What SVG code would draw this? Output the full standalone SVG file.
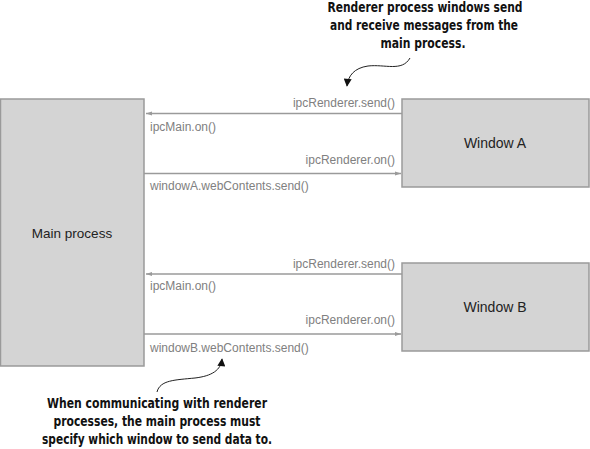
<svg xmlns="http://www.w3.org/2000/svg" width="590" height="449" viewBox="0 0 590 449">
<style>
.box{fill:#d4d4d4;stroke:#9a9a9a;stroke-width:1.5}
.name{font-family:"Liberation Sans",Arial,sans-serif;font-size:14px;fill:#222;text-anchor:middle}
.lbl{font-family:"Liberation Sans",Arial,sans-serif;font-size:12px;fill:#808080}
.r{text-anchor:end}
.con{stroke:#9a9a9a;stroke-width:1.5;fill:none}
.note{font-family:"Liberation Sans Narrow","DejaVu Sans Condensed","Liberation Sans",sans-serif;font-weight:bold;font-size:14.5px;fill:#111;text-anchor:middle}
.call{stroke:#222;stroke-width:1;fill:none}
</style>
<defs>
<marker id="ah" viewBox="0 0 10 10" refX="10" refY="5" markerWidth="8" markerHeight="6" orient="auto" markerUnits="userSpaceOnUse">
<path d="M0,1.5 L10,5 L0,8.5 Z" fill="#9a9a9a"/>
</marker>
<marker id="bh" viewBox="0 0 10 10" refX="9" refY="5" markerWidth="9" markerHeight="8" orient="auto" markerUnits="userSpaceOnUse">
<path d="M0,0 L10,5 L0,10 Z" fill="#111"/>
</marker>
</defs>
<g id="main-process">
<rect class="box" x="0.5" y="99" width="143.5" height="267"/>
<text class="name" x="72" y="238" style="font-size:13.5px">Main process</text>
</g>
<g id="window-a">
<rect class="box" x="402" y="99" width="187" height="88"/>
<text class="name" x="495" y="148">Window A</text>
</g>
<g id="window-b">
<rect class="box" x="402" y="263" width="187" height="88"/>
<text class="name" x="495" y="312">Window B</text>
</g>
<g id="connectors">
<line class="con" x1="402" y1="113.5" x2="146" y2="113.5" marker-end="url(#ah)"/>
<line class="con" x1="144" y1="173.5" x2="401" y2="173.5" marker-end="url(#ah)"/>
<line class="con" x1="402" y1="274" x2="146" y2="274" marker-end="url(#ah)"/>
<line class="con" x1="144" y1="334" x2="401" y2="334" marker-end="url(#ah)"/>
<text class="lbl r" x="395" y="107">ipcRenderer.send()</text>
<text class="lbl" x="150" y="131">ipcMain.on()</text>
<text class="lbl r" x="395" y="164">ipcRenderer.on()</text>
<text class="lbl" x="150" y="190">windowA.webContents.send()</text>
<text class="lbl r" x="395" y="268">ipcRenderer.send()</text>
<text class="lbl" x="150" y="290">ipcMain.on()</text>
<text class="lbl r" x="395" y="324">ipcRenderer.on()</text>
<text class="lbl" x="150" y="352">windowB.webContents.send()</text>
</g>
<g id="note-top">
<text class="note" x="425" y="12" textLength="195" lengthAdjust="spacingAndGlyphs">Renderer process windows send</text>
<text class="note" x="424" y="30" textLength="188" lengthAdjust="spacingAndGlyphs">and receive messages from the</text>
<text class="note" x="423" y="48" textLength="85" lengthAdjust="spacingAndGlyphs">main process.</text>
<path class="call" d="M410,58 C402,72 385,64 368,66 C354,68 348,76 347,86" marker-end="url(#bh)"/>
</g>
<g id="note-bottom">
<text class="note" x="157" y="408" textLength="220" lengthAdjust="spacingAndGlyphs">When communicating with renderer</text>
<text class="note" x="157" y="426" textLength="207" lengthAdjust="spacingAndGlyphs">processes, the main process must</text>
<text class="note" x="157" y="444" textLength="230" lengthAdjust="spacingAndGlyphs">specify which window to send data to.</text>
<path class="call" d="M157,392 C160,380 175,380 195,378 C212,376 221,370 222,359" marker-end="url(#bh)"/>
</g>
</svg>
